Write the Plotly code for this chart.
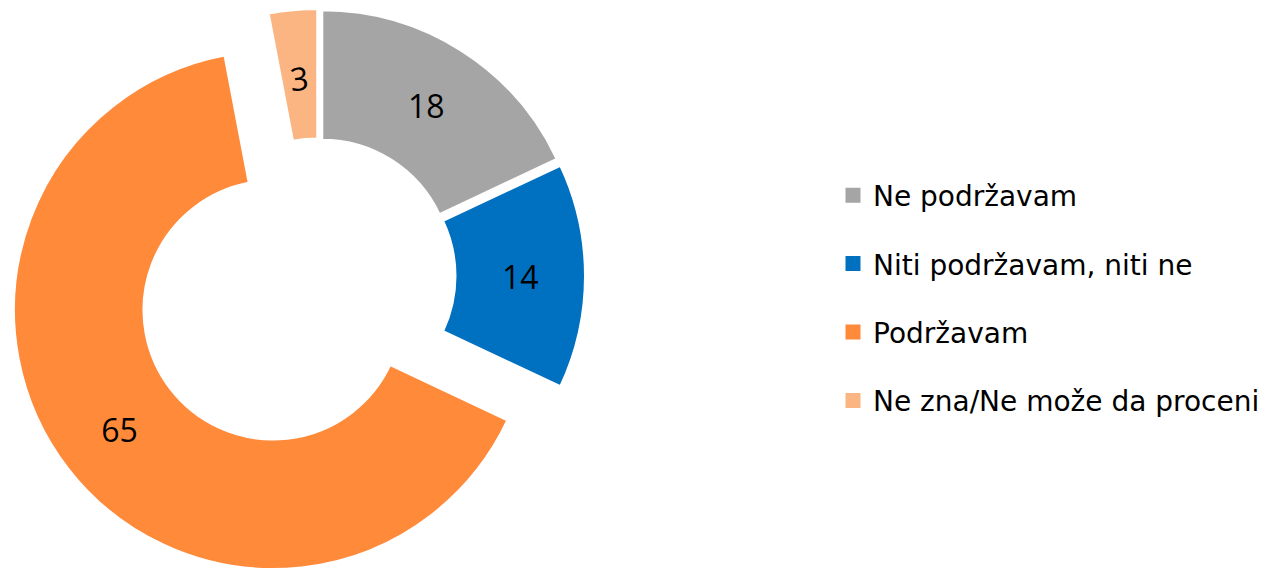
import plotly.graph_objects as go

# ---- data ----
labels = ["Ne podržavam", "Niti podržavam, niti ne", "Podržavam", "Ne zna/Ne može da proceni"]
values = [18, 14, 65, 3]
colors = ["#A5A5A5", "#0070C0", "#FE8A3A", "#FBB582"]
exploded = "Podržavam"      # slice pulled far out of the ring
narrow = "Ne zna/Ne može da proceni"  # thin slice whose label sits lower in the ring

# ---- layout constants (pixels) ----
W, H = 1278, 572
R_OUT = 259          # outer radius of ring
R_LABEL = 226        # outer radius of the helper ring carrying the thin slice's label
HOLE = 0.5
PULL_PX = 8          # slight explosion of the other slices
RING_CENTER = (310, 268)
EXPL_CENTER = (265, 302)
NUM_FONT = "Open Sans"
LEG_FONT = "DejaVu Sans"
TRANSPARENT = "rgba(0,0,0,0)"


def domain(center, half):
    cx, cy = center
    return dict(x=[(cx - half) / W, (cx + half) / W],
                y=[(H - cy - half) / H, (H - cy + half) / H])


def slice_trace(show_fill, show_text, pull, dom, hole=HOLE, orientation="horizontal"):
    """Pie trace filling the slices in `show_fill` and labelling those in `show_text`."""
    fill = [lab in show_fill for lab in labels]
    txt = [lab in show_text for lab in labels]
    return go.Pie(
        labels=labels, values=values, sort=False, direction="clockwise", rotation=0,
        hole=hole,
        pull=pull,
        marker=dict(colors=[c if v else TRANSPARENT for c, v in zip(colors, fill)],
                    line=dict(color=["white" if v else TRANSPARENT for v in fill], width=2)),
        text=[str(val) if t else "" for val, t in zip(values, txt)],
        textinfo="text", textposition="inside", insidetextorientation=orientation,
        textfont=dict(family=NUM_FONT, size=32, color="black"),
        hoverinfo="skip", showlegend=False,
        domain=dom,
    )


ring_labels = [lab for lab in labels if lab != exploded]
text_labels = [lab for lab in ring_labels if lab != narrow]

fig = go.Figure()
# ring (slightly exploded slices)
fig.add_trace(slice_trace(ring_labels, text_labels, PULL_PX / R_OUT,
                          domain(RING_CENTER, R_OUT + PULL_PX)))
# helper: label of the thin slice, placed mid-ring
fig.add_trace(slice_trace([], [narrow], PULL_PX / R_LABEL,
                          domain(RING_CENTER, R_LABEL + PULL_PX), hole=0,
                          orientation="tangential"))
# far-exploded slice
fig.add_trace(slice_trace([exploded], [exploded], 0, domain(EXPL_CENTER, R_OUT)))

# legend entries
for i, (lab, c) in enumerate(zip(labels, colors)):
    fig.add_trace(go.Scatter(
        x=[None], y=[None], mode="markers", name=lab, legendgroup=f"g{i}",
        marker=dict(symbol="square", size=15, color=c),
        hoverinfo="skip",
    ))

fig.update_layout(
    width=W, height=H,
    margin=dict(l=0, r=0, t=0, b=0),
    paper_bgcolor="white", plot_bgcolor="white",
    font=dict(family=LEG_FONT, color="black"),
    xaxis=dict(visible=False), yaxis=dict(visible=False),
    legend=dict(x=825 / W, xanchor="left", y=0.493, yanchor="middle",
                font=dict(family=LEG_FONT, size=28, color="black"),
                tracegroupgap=29, itemsizing="trace",
                bgcolor="rgba(0,0,0,0)"),
)

fig.write_html("out.html")
